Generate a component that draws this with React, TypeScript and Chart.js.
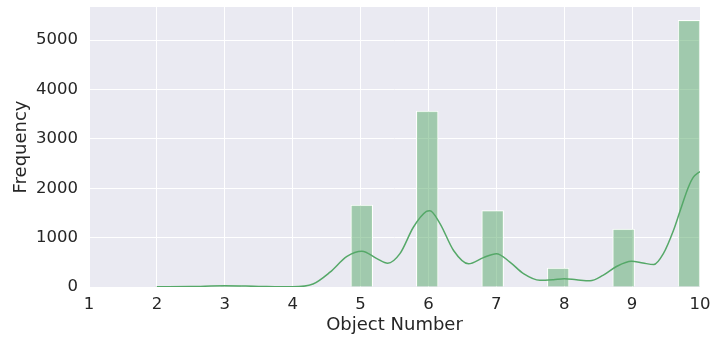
import React, { useEffect, useRef } from "react";
import { Chart, registerables } from "chart.js";

Chart.register(...registerables);

// Histogram bins (centres of 28 equal bins from 1 to 10)
const binCenters = [
  1.161, 1.482, 1.804, 2.125, 2.446, 2.768, 3.089, 3.411, 3.732, 4.054,
  4.375, 4.696, 5.018, 5.339, 5.661, 5.982, 6.304, 6.625, 6.946, 7.268,
  7.589, 7.911, 8.232, 8.554, 8.875, 9.196, 9.518, 9.839,
];
const binCounts = [
  0, 0, 0, 10, 0, 0, 30, 0, 0, 8,
  0, 0, 1660, 0, 0, 3560, 0, 0, 1550, 0,
  0, 385, 0, 0, 1175, 0, 0, 5400,
];

// KDE curve (scaled to counts)
const kdeX = [
  2.0, 2.5, 3.0, 3.5, 4.0, 4.3, 4.55, 4.8, 5.02, 5.24, 5.4, 5.58, 5.78, 5.97,
  6.02, 6.17, 6.37, 6.59, 6.81, 7.0, 7.2, 7.4, 7.64, 7.84, 8.0, 8.18, 8.38,
  8.57, 8.77, 8.99, 9.16, 9.32, 9.46, 9.61, 9.71, 9.83, 9.9, 10.0,
];
const kdeY = [
  5, 10, 25, 12, 3, 60, 300, 620, 725, 575, 480, 675, 1215, 1530,
  1545, 1285, 740, 470, 595, 675, 505, 270, 135, 148, 168, 146, 125,
  235, 415, 520, 485, 455, 675, 1150, 1555, 2025, 2220, 2340,
];

const xTicks = [1, 2, 3, 4, 5, 6, 7, 8, 9, 10];
const yTicks = [0, 1000, 2000, 3000, 4000, 5000];

const xLabel = "Object Number";
const yLabel = "Frequency";

const FONT = "'DejaVu Sans', sans-serif";
const TEXT = "#262626";

export default function App() {
  const ref = useRef<HTMLCanvasElement | null>(null);

  useEffect(() => {
    if (!ref.current) return;
    const chart = new Chart(ref.current, {
      type: "bar",
      data: {
        datasets: [
          {
            type: "line",
            data: kdeX.map((x, i) => ({ x, y: kdeY[i] })),
            borderColor: "#55A868",
            borderWidth: 1.5,
            pointRadius: 0,
            cubicInterpolationMode: "monotone",
            fill: false,
            order: 0,
          } as any,
          {
            type: "bar",
            data: binCenters.map((x, i) => ({ x, y: binCounts[i] })),
            backgroundColor: "rgba(85,168,104,0.5)",
            borderColor: "#ffffff",
            borderWidth: 1,
            barPercentage: 1,
            categoryPercentage: 1,
            order: 1,
          } as any,
        ],
      },
      options: {
        responsive: false,
        animation: false,
        devicePixelRatio: 1,
        layout: { padding: { top: 7, right: 12, left: 0, bottom: 0 } },
        plugins: {
          legend: { display: false },
          tooltip: { enabled: false },
        },
        scales: {
          x: {
            type: "linear",
            min: 1,
            max: 10,
            offset: false,
            grid: { color: "#ffffff", lineWidth: 1, drawTicks: false, offset: false },
            border: { display: false },
            afterBuildTicks: (s: any) => {
              s.ticks = xTicks.map((v) => ({ value: v }));
            },
            afterFit: (s: any) => {
              s.height = 54;
              s.paddingLeft = 0;
              s.paddingRight = 0;
            },
            ticks: {
              color: TEXT,
              font: { family: FONT, size: 16.5 },
              padding: 8,
              maxRotation: 0,
              callback: (v: any) => String(v),
            },
            title: {
              display: true,
              text: xLabel,
              color: TEXT,
              font: { family: FONT, size: 18 },
              padding: { top: 0, bottom: 5 },
            },
          },
          y: {
            type: "linear",
            min: 0,
            max: 5670,
            grid: { color: "#ffffff", lineWidth: 1, drawTicks: false },
            border: { display: false },
            afterBuildTicks: (s: any) => {
              s.ticks = yTicks.map((v) => ({ value: v }));
            },
            afterFit: (s: any) => {
              s.width = 89;
              s.paddingTop = 0;
              s.paddingBottom = 0;
            },
            ticks: {
              color: TEXT,
              font: { family: FONT, size: 16.5 },
              padding: 11,
              callback: (v: any) => String(v),
            },
            title: {
              display: true,
              text: yLabel,
              color: TEXT,
              font: { family: FONT, size: 18 },
              padding: { top: 11, bottom: 0 },
            },
          },
        },
      },
      plugins: [
        {
          id: "bg",
          beforeDraw: (c: any) => {
            const { ctx, chartArea } = c;
            ctx.save();
            ctx.fillStyle = "#EAEAF2";
            ctx.fillRect(
              chartArea.left,
              chartArea.top,
              chartArea.right - chartArea.left,
              chartArea.bottom - chartArea.top
            );
            ctx.restore();
          },
        },
      ],
    });
    return () => chart.destroy();
  }, []);

  return (
    <div
      style={{
        position: "absolute",
        left: 0,
        top: 0,
        width: 712,
        height: 341,
        background: "#ffffff",
      }}
    >
      <canvas ref={ref} width={712} height={341} />
    </div>
  );
}
